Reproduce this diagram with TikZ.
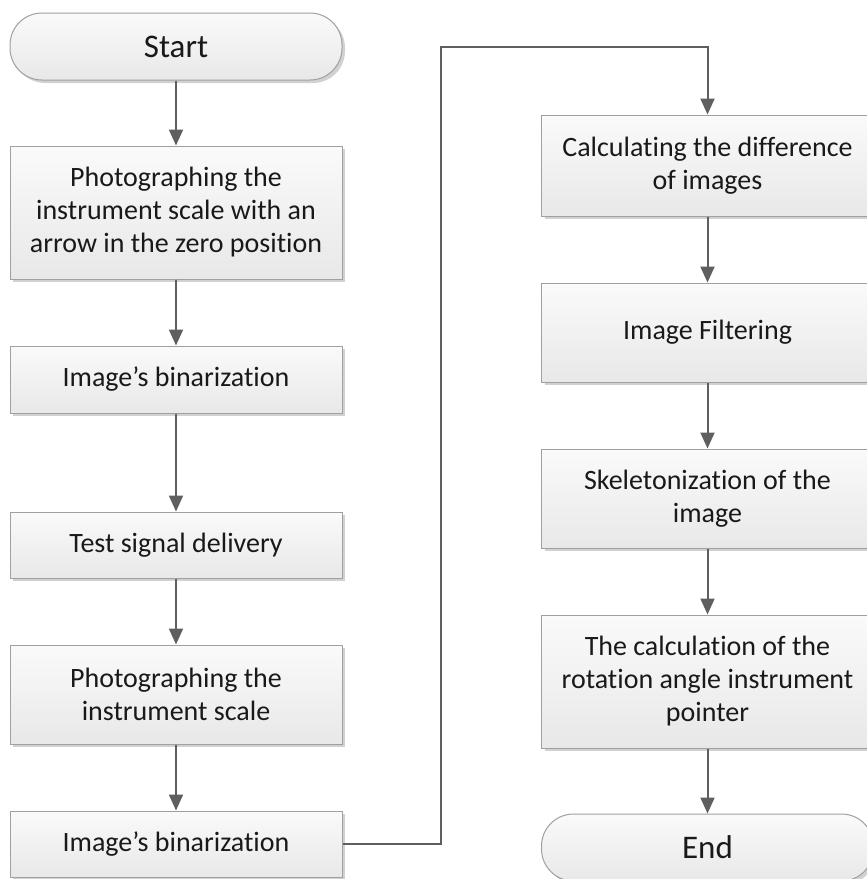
\documentclass[tikz,border=0pt]{standalone}
\usepackage{fontspec}
\setmainfont[RawFeature=-liga]{Carlito}
\usetikzlibrary{arrows.meta,shadows}

\definecolor{framegray}{RGB}{160,160,160}
\definecolor{linegray}{RGB}{95,95,95}
\definecolor{fillhi}{RGB}{250,250,250}
\definecolor{filllo}{RGB}{232,232,232}

\tikzset{
  stepbox/.style={rectangle, draw=framegray, line width=0.5pt, top color=fillhi, bottom color=filllo,
    drop shadow={shadow xshift=1.5pt, shadow yshift=-1.5pt, fill=black!30, opacity=0.6},
    minimum width=166pt, inner sep=0pt, align=center, text=black!90,
    font=\fontsize{14pt}{16.5pt}\selectfont},
  terminal/.style={stepbox, rounded corners=16pt, font=\fontsize{16.5pt}{19pt}\selectfont},
  flow/.style={draw=linegray, line width=1pt, -{Triangle[length=8pt,width=7pt]}}
}

\begin{document}
\begin{tikzpicture}[x=0.5pt, y=-0.5pt]
	\useasboundingbox (0,0) rectangle (867,879);
	% left column
	\node (start)[terminal, minimum height=33.5pt] at (176,46.5) {Start};
	\node (photo0)[stepbox, minimum height=66.5pt] at (176,212.5) {Photographing the\\instrument scale with an\\arrow in the zero position};
	\node (bin0)[stepbox, minimum height=33.5pt] at (176,379.5) {Image’s binarization};
	\node (signal)[stepbox, minimum height=33pt] at (176,545) {Test signal delivery};
	\node (photo1)[stepbox, minimum height=49.5pt] at (176,694.5) {Photographing the\\instrument scale};
	\node (bin1)[stepbox, minimum height=33pt] at (176,844) {Image’s binarization};
	% right column
	\node (diff)[stepbox, minimum height=50.5pt] at (707.5,165.5) {Calculating the difference\\of images};
	\node (filter)[stepbox, minimum height=49.5pt] at (707.5,332.5) {Image Filtering};
	\node (skel)[stepbox, minimum height=49.5pt] at (707.5,498.5) {Skeletonization of the\\image};
	\node (angle)[stepbox, minimum height=66.5pt] at (707.5,681.5) {The calculation of the\\rotation angle instrument\\pointer};
	\node (end)[terminal, minimum height=33.5pt] at (707.5,847.5) {End};
	\coordinate (turn) at (441,47);

	\draw [flow](start) -- (photo0);
	\draw [flow](photo0) -- (bin0);
	\draw [flow](bin0) -- (signal);
	\draw [flow](signal) -- (photo1);
	\draw [flow](photo1) -- (bin1);
	\draw [flow](bin1.east) -| (turn) -| (diff.north);
	\draw [flow](diff) -- (filter);
	\draw [flow](filter) -- (skel);
	\draw [flow](skel) -- (angle);
	\draw [flow](angle) -- (end);
\end{tikzpicture}
\end{document}
